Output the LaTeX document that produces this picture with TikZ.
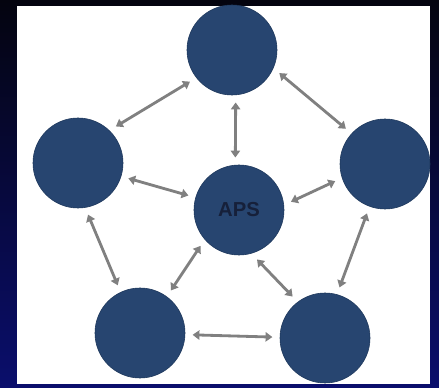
\documentclass[tikz,border=0pt]{standalone}
\usepackage{fontspec}
\setsansfont{Liberation Sans}
\usetikzlibrary{arrows.meta}
\definecolor{slidetop}{HTML}{04040F}
\definecolor{slidebot}{HTML}{0A0E6C}
\definecolor{panelwhite}{HTML}{FFFFFF}
\definecolor{peernavy}{HTML}{274570}
\definecolor{peerrim}{HTML}{1E385C}
\definecolor{linkgray}{HTML}{808080}
\definecolor{hubtext}{HTML}{16203A}
\tikzset{
  peer/.style={
    circle,
    fill=peernavy,
    draw=peerrim,
    thin,
    minimum size=2.25cm,
    inner sep=0pt,
    outer sep=0.19cm,
    font=\sffamily\bfseries\Large,
    text=hubtext
  },
  link/.style={{Triangle[length=1.7mm,width=2.3mm]}-{Triangle[length=1.7mm,width=2.3mm]}, line width=2pt, draw=linkgray}
}

\begin{document}
\begin{tikzpicture}[x=0.025cm,y=0.025cm]

% slide and panel
\fill[top color=slidetop, bottom color=slidebot] (0,0) rectangle (439,387);
\fill[panelwhite] (17,3) rectangle (430,381);

% ring of peers
\node[peer] (hub) at (239,177) {APS};
\node[peer] (ptop) at (232,337) {};
\node[peer] (pleft) at (78,224) {};
\node[peer] (pright) at (385,223) {};
\node[peer] (pbl) at (140,54) {};
\node[peer] (pbr) at (325,49) {};

% outer links
\draw[link] (ptop.217) -- (pleft.44);
\draw[link] (ptop.334) -- (pright.138);
\draw[link] (pleft.281) -- (pbl.115);
\draw[link] (pright.250) -- (pbr.74);
\draw[link] (pbl.358) -- (pbr.179);

% spokes to the hub
\draw[link] (ptop.274) -- (hub.94);
\draw[link] (pleft.343) -- (hub.164);
\draw[link] (pright.199) -- (hub.9);
\draw[link] (pbl.54) -- (hub.223);
\draw[link] (pbr.128) -- (hub.290);

\end{tikzpicture}
\end{document}
